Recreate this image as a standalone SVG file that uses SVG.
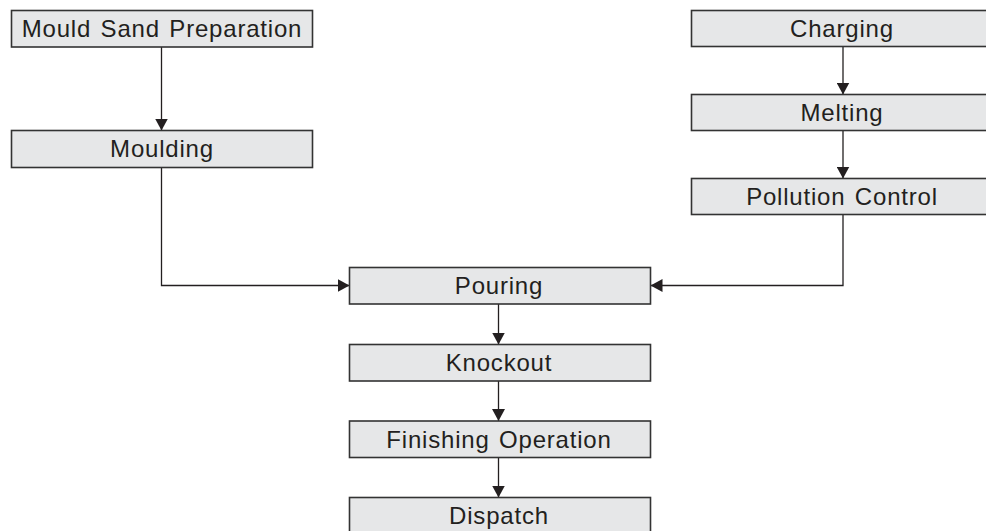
<svg xmlns="http://www.w3.org/2000/svg" width="986" height="531" viewBox="0 0 986 531">
<style>
.box{fill:#e6e7e8;stroke:#333;stroke-width:1.6}
.lbl{font-family:"Liberation Sans",Arial,sans-serif;font-size:24px;letter-spacing:0.8px;word-spacing:2px;fill:#231f20;text-anchor:middle}
.con{fill:none;stroke:#231f20;stroke-width:1.3}
</style>
<defs>
<marker id="arr" markerUnits="userSpaceOnUse" markerWidth="12" markerHeight="13" refX="12" refY="6.5" orient="auto">
<path d="M0,0 L12,6.5 L0,13 z" fill="#231f20"/>
</marker>
</defs>
<rect width="986" height="531" fill="#fff"/>
<g id="connectors">
<path class="con" d="M161.5,47 V130.5" marker-end="url(#arr)"/>
<path class="con" d="M843,46.5 V94.5" marker-end="url(#arr)"/>
<path class="con" d="M843,130.5 V178.5" marker-end="url(#arr)"/>
<path class="con" d="M161.5,167.5 V285.5 H349.5" marker-end="url(#arr)"/>
<path class="con" d="M843,214.5 V285.5 H650.5" marker-end="url(#arr)"/>
<path class="con" d="M498.5,304 V344.5" marker-end="url(#arr)"/>
<path class="con" d="M498.5,381 V421" marker-end="url(#arr)"/>
<path class="con" d="M498.5,457.5 V497.5" marker-end="url(#arr)"/>
</g>
<g id="n1"><rect class="box" x="11.5" y="10.5" width="301" height="36.5"/><text class="lbl" x="162" y="37">Mould Sand Preparation</text></g>
<g id="n2"><rect class="box" x="11.5" y="130.5" width="301" height="37"/><text class="lbl" x="162" y="157.3">Moulding</text></g>
<g id="n3"><rect class="box" x="691.5" y="10.5" width="301" height="36"/><text class="lbl" x="842" y="36.8">Charging</text></g>
<g id="n4"><rect class="box" x="691.5" y="94.5" width="301" height="36"/><text class="lbl" x="842" y="120.8">Melting</text></g>
<g id="n5"><rect class="box" x="691.5" y="178.5" width="301" height="36"/><text class="lbl" x="842" y="204.8">Pollution Control</text></g>
<g id="n6"><rect class="box" x="349.5" y="267.5" width="301" height="36.5"/><text class="lbl" x="499" y="294">Pouring</text></g>
<g id="n7"><rect class="box" x="349.5" y="344.5" width="301" height="36.5"/><text class="lbl" x="499" y="371">Knockout</text></g>
<g id="n8"><rect class="box" x="349.5" y="421" width="301" height="36.5"/><text class="lbl" x="499" y="447.5">Finishing Operation</text></g>
<g id="n9"><rect class="box" x="349.5" y="497.5" width="301" height="36.5"/><text class="lbl" x="499" y="524">Dispatch</text></g>
</svg>
